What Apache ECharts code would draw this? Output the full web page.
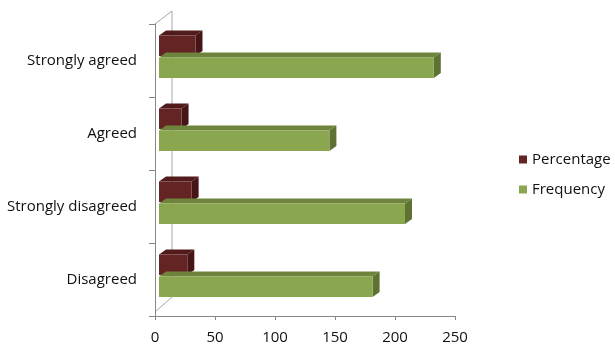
<!DOCTYPE html>
<html><head><meta charset="utf-8">
<script src="https://cdn.jsdelivr.net/npm/echarts@6/dist/echarts.min.js"></script>
<style>html,body{margin:0;padding:0;background:#fff}#c{width:615px;height:352px}</style>
</head><body><div id="c"></div>
<script>
const categories = ['Disagreed', 'Strongly disagreed', 'Agreed', 'Strongly agreed'];
const frequency = [178, 205, 142, 229];
const percentage = [23.6, 27.2, 18.8, 30.4];
const xTicks = [0, 50, 100, 150, 200, 250];

const chart = echarts.init(document.getElementById('c'));
const FONT = 'Open Sans';
const TXT = '#111111';

function make3D(frontColor, topColor, sideColor, topFrac) {
  return function (params, api) {
    const v = api.value(0), idx = api.value(1);
    const p0 = api.coord([0, idx]);
    const p1 = api.coord([v, idx]);
    const band = api.size([0, 1])[1];
    const h = band * 0.28;
    const y0 = p0[1] - band * topFrac;
    const x0 = p0[0] + 4, x1 = p1[0] + 4;
    const dx = 7, dy = 5;
    return {
      type: 'group',
      children: [
        { type: 'polygon', shape: { points: [[x0, y0], [x1, y0], [x1 + dx, y0 - dy], [x0 + dx, y0 - dy]] }, style: { fill: topColor } },
        { type: 'polygon', shape: { points: [[x1, y0], [x1 + dx, y0 - dy], [x1 + dx, y0 + h - dy], [x1, y0 + h]] }, style: { fill: sideColor } },
        { type: 'rect', shape: { x: x0, y: y0, width: x1 - x0, height: h }, style: { fill: frontColor } }
      ]
    };
  };
}

const option = {
  animation: false,
  textStyle: { fontFamily: FONT },
  grid: { left: 155, right: 160, top: 24, bottom: 36, containLabel: false },
  legend: {
    orient: 'vertical', left: 514, top: 147, itemWidth: 8, itemHeight: 8, itemGap: 15,
    icon: 'rect',
    textStyle: { fontFamily: FONT, fontSize: 15, color: TXT },
    data: ['Percentage', 'Frequency']
  },
  xAxis: {
    type: 'value', min: 0, max: 250, interval: 50,
    axisLine: { show: true, lineStyle: { color: '#868686' } },
    axisTick: { show: true, inside: false, length: 4, lineStyle: { color: '#868686' } },
    axisLabel: { fontFamily: FONT, fontSize: 15, color: TXT, margin: 14, formatter: v => xTicks.includes(v) ? String(v) : '' },
    splitLine: { show: false }
  },
  yAxis: {
    type: 'category', data: categories,
    axisLine: { show: true, lineStyle: { color: '#868686' } },
    axisTick: { show: true, length: 6, lineStyle: { color: '#868686' } },
    axisLabel: { fontFamily: FONT, fontSize: 15, color: TXT, margin: 18 }
  },
  graphic: [
    { type: 'polyline', shape: { points: [[155, 24], [172, 11], [172, 297], [155, 312]] }, style: { stroke: '#a6a6a6', fill: null, lineWidth: 1 }, silent: true }
  ],
  series: [
    {
      name: 'Percentage', type: 'custom', itemStyle: { color: '#632523' },
      encode: { x: 0, y: 1 },
      data: percentage.map((v, i) => [v, i]),
      renderItem: make3D('#652424', '#511b1b', '#461515', 25 / 73)
    },
    {
      name: 'Frequency', type: 'custom', itemStyle: { color: '#8aa64f' },
      encode: { x: 0, y: 1 },
      data: frequency.map((v, i) => [v, i]),
      renderItem: make3D('#8aa64f', '#6e843d', '#5e7234', 3 / 73)
    }
  ]
};
chart.setOption(option);
</script>
</body></html>
